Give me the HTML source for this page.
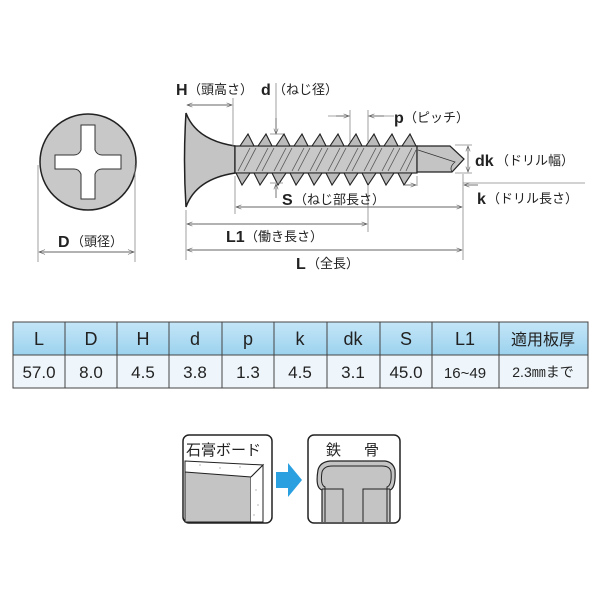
<!DOCTYPE html>
<html><head><meta charset="utf-8"><style>
body{margin:0;background:#fff}
svg{display:block}
text{font-family:"Liberation Sans","Noto Sans CJK JP",sans-serif;fill:#222}
</style></head><body>
<svg width="600" height="600" viewBox="0 0 600 600" xmlns="http://www.w3.org/2000/svg">
<defs>
<marker id="a" viewBox="0 0 10 10" refX="10" refY="5" markerWidth="8" markerHeight="6" orient="auto-start-reverse"><path d="M0,1 L10,5 L0,9" fill="none" stroke="#555" stroke-width="1"/></marker>
<linearGradient id="hg" x1="0" y1="0" x2="0" y2="1"><stop offset="0" stop-color="#c4e6f8"/><stop offset="1" stop-color="#9cd2ee"/></linearGradient>
</defs>
<circle cx="88" cy="162" r="48" fill="#c8c8c8" stroke="#222" stroke-width="1.5"/>
<path d="M81,125 H95 V150 Q97,155 102,155 H121 V169 H102 Q97,169 95,174 V199 H81 V174 Q79,169 74,169 H55 V155 H74 Q79,155 81,150 Z" fill="#fff" stroke="#333" stroke-width="1"/>
<g stroke="#888" stroke-width="0.8">
<line x1="38" y1="165" x2="38" y2="262"/><line x1="135" y1="165" x2="135" y2="262"/>
</g>
<line x1="39" y1="252" x2="134" y2="252" stroke="#666" marker-start="url(#a)" marker-end="url(#a)"/>
<text x="58" y="247" font-size="16" font-weight="bold">D</text><text x="71" y="246" font-size="13">（頭径）</text>
<path d="M186,113 Q196,140 235,146 V173 Q196,179 186,207 Q183,160 186,113Z" fill="#c4c4c4" stroke="#222" stroke-width="1.5"/>
<rect x="235" y="146" width="182" height="27" fill="#c8c8c8" stroke="#222" stroke-width="1.2"/>
<g fill="#bbb" stroke="#222" stroke-width="1.1">
<path d="M240,146 L248,134 L254,146Z M258,146 L266,134 L272,146Z M276,146 L284,134 L290,146Z M294,146 L302,134 L308,146Z M312,146 L320,134 L326,146Z M330,146 L338,134 L344,146Z M348,146 L356,134 L362,146Z M366,146 L374,134 L380,146Z M384,146 L392,134 L398,146Z M402,146 L410,134 L416,146Z"/>
<path d="M236,173 L242,185 L250,173Z M254,173 L260,185 L268,173Z M272,173 L278,185 L286,173Z M290,173 L296,185 L304,173Z M308,173 L314,185 L322,173Z M326,173 L332,185 L340,173Z M344,173 L350,185 L358,173Z M362,173 L368,185 L376,173Z M380,173 L386,185 L394,173Z M398,173 L404,185 L412,173Z"/>
</g>
<g stroke="#555" stroke-width="0.8">
<path d="M238,171 L250,148 M244,171 L256,148 M256,171 L268,148 M262,171 L274,148 M274,171 L286,148 M280,171 L292,148 M292,171 L304,148 M298,171 L310,148 M310,171 L322,148 M316,171 L328,148 M328,171 L340,148 M334,171 L346,148 M346,171 L358,148 M352,171 L364,148 M364,171 L376,148 M370,171 L382,148 M382,171 L394,148 M388,171 L400,148 M400,171 L412,148 M406,171 L416,150"/>
</g>
<path d="M417,146 H450 L464,159 L452,172 H417Z" fill="#c4c4c4" stroke="#222" stroke-width="1.2"/>
<path d="M418,150 L455,162 Q449,167 452,172" fill="none" stroke="#333" stroke-width="0.8"/>
<g stroke="#888" stroke-width="0.8" fill="none">
<line x1="186" y1="210" x2="186" y2="260"/>
<line x1="235" y1="176" x2="235" y2="214"/>
<line x1="233" y1="98" x2="233" y2="146"/>
<line x1="368" y1="185" x2="368" y2="232"/>
<line x1="463" y1="174" x2="463" y2="260"/>
<line x1="350" y1="110" x2="350" y2="142"/>
<line x1="368" y1="110" x2="368" y2="142"/>
<line x1="417" y1="176" x2="417" y2="186"/>
<line x1="276" y1="83" x2="276" y2="130"/>
<line x1="270" y1="134" x2="283" y2="134"/>
<line x1="270" y1="183" x2="283" y2="183"/>
<line x1="455" y1="145" x2="472" y2="145"/><line x1="455" y1="173" x2="472" y2="173"/>
<line x1="463" y1="183" x2="585" y2="183"/>
<line x1="394" y1="116" x2="368" y2="116"/><line x1="328" y1="116" x2="350" y2="116"/>
</g>
<g stroke="#666" stroke-width="0.9" fill="none">
<line x1="187" y1="105" x2="232" y2="105" marker-start="url(#a)" marker-end="url(#a)"/>
<line x1="276" y1="118" x2="276" y2="134" marker-end="url(#a)"/>
<line x1="276" y1="198" x2="276" y2="184" marker-end="url(#a)"/>
<line x1="336" y1="116" x2="349" y2="116" marker-end="url(#a)"/>
<line x1="384" y1="116" x2="369" y2="116" marker-end="url(#a)"/>
<line x1="468" y1="146" x2="468" y2="172" marker-start="url(#a)" marker-end="url(#a)"/>
<line x1="405" y1="185" x2="416" y2="185" marker-end="url(#a)"/>
<line x1="478" y1="185" x2="464" y2="185" marker-end="url(#a)"/>
<line x1="236" y1="207" x2="462" y2="207" marker-start="url(#a)" marker-end="url(#a)"/>
<line x1="187" y1="224" x2="367" y2="224" marker-start="url(#a)" marker-end="url(#a)"/>
<line x1="187" y1="250" x2="462" y2="250" marker-start="url(#a)" marker-end="url(#a)"/>
</g>
<g font-weight="bold" font-size="16">
<text x="176" y="95">H</text><text x="261" y="95">d</text><text x="394" y="123">p</text><text x="475" y="166">dk</text><text x="477" y="204">k</text><text x="282" y="205">S</text><text x="226" y="242">L1</text><text x="296" y="269">L</text>
</g>
<g font-size="13">
<text x="188" y="94">（頭高さ）</text>
<text x="273" y="94">（ねじ径）</text>
<text x="404" y="122">（ピッチ）</text>
<text x="496" y="165">（ドリル幅）</text>
<text x="487" y="203">（ドリル長さ）</text>
<text x="294" y="204">（ねじ部長さ）</text>
<text x="245" y="241">（働き長さ）</text>
<text x="307" y="268">（全長）</text>
</g>
<rect x="13" y="322" width="575" height="33" fill="url(#hg)"/>
<rect x="13" y="355" width="575" height="33" fill="#eef6fb"/>
<g stroke="#444" stroke-width="1">
<rect x="13" y="322" width="575" height="66" fill="none"/>
<line x1="13" y1="355" x2="588" y2="355"/>
<line x1="65" y1="322" x2="65" y2="388"/><line x1="117" y1="322" x2="117" y2="388"/><line x1="169" y1="322" x2="169" y2="388"/><line x1="222" y1="322" x2="222" y2="388"/><line x1="274" y1="322" x2="274" y2="388"/><line x1="327" y1="322" x2="327" y2="388"/><line x1="380" y1="322" x2="380" y2="388"/><line x1="432" y1="322" x2="432" y2="388"/><line x1="499" y1="322" x2="499" y2="388"/>
</g>
<g font-size="18" text-anchor="middle">
<text x="39" y="345">L</text><text x="91" y="345">D</text><text x="143" y="345">H</text><text x="195" y="345">d</text><text x="248" y="345">p</text><text x="300" y="345">k</text><text x="353" y="345">dk</text><text x="406" y="345">S</text><text x="465" y="345">L1</text><text x="543" y="345" font-size="16">適用板厚</text>
</g>
<g font-size="17" text-anchor="middle">
<text x="39" y="378">57.0</text><text x="91" y="378">8.0</text><text x="143" y="378">4.5</text><text x="195" y="378">3.8</text><text x="248" y="378">1.3</text><text x="300" y="378">4.5</text><text x="353" y="378">3.1</text><text x="406" y="378">45.0</text><text x="465" y="378" font-size="15">16~49</text><text x="543" y="377" font-size="14">2.3㎜まで</text>
</g>
<rect x="183" y="435" width="89" height="88" rx="6" fill="#fff" stroke="#222" stroke-width="1.5"/>
<text x="186" y="455" font-size="15">石膏ボード</text>
<path d="M185,461 L263,465 L251,477 L251,522 L185,522Z" fill="#fff" stroke="#222"/>
<path d="M185,472 L251,477 L251,522 L185,522Z" fill="#c4c4c4" stroke="#222"/>
<path d="M251,477 L263,465 L263,522 L251,522" fill="#fff" stroke="#222"/>
<g fill="#888"><circle cx="200" cy="465" r=".6"/><circle cx="220" cy="468" r=".6"/><circle cx="240" cy="467" r=".6"/><circle cx="256" cy="490" r=".6"/><circle cx="258" cy="505" r=".6"/><circle cx="254" cy="515" r=".6"/></g>
<path d="M276,472 H288 V463 L302,480 L288,497 V488 H276Z" fill="#2aa0e0"/>
<rect x="308" y="435" width="92" height="88" rx="6" fill="#fff" stroke="#222" stroke-width="1.5"/>
<text x="326" y="455" font-size="15">鉄</text><text x="364" y="455" font-size="15">骨</text>
<path d="M322,522 V490 Q315,488 318,470 Q320,462 330,461 H385 Q393,462 395,470 Q396,488 390,490 V522" fill="#c4c4c4" stroke="#222" stroke-width="1.2"/>
<path d="M325,522 V487 Q320,485 322,472 Q324,466 332,466 H382 Q390,466 391,472 Q392,485 387,487 V522" fill="#c4c4c4" stroke="#222" stroke-width="1"/>
<path d="M322,489 H343 V522 M390,489 H363 V522" fill="none" stroke="#222"/>
</svg>
</body></html>
